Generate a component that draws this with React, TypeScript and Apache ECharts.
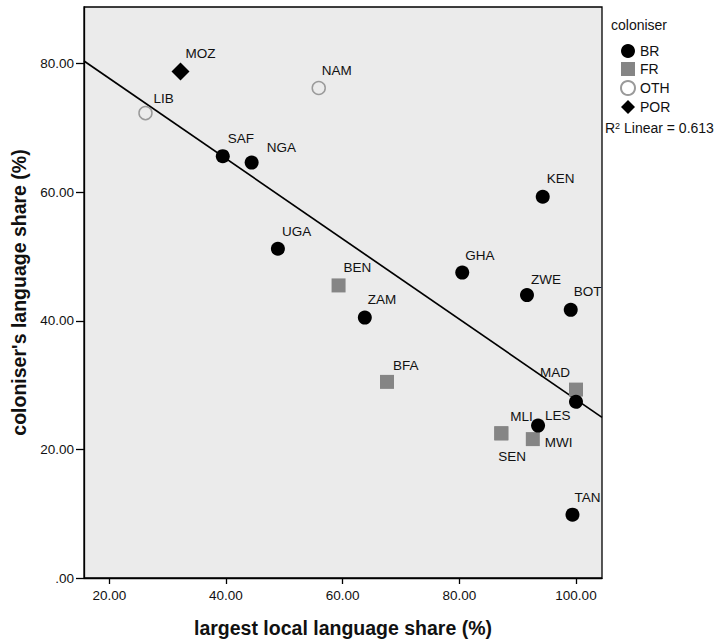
import React, { useEffect, useRef } from "react";
import * as echarts from "echarts";

// ---- data ----
const countries = ["MOZ", "NAM", "LIB", "SAF", "NGA", "KEN", "UGA", "BEN", "GHA", "ZAM", "ZWE", "BOT", "BFA", "MAD", "", "MLI", "SEN", "LES", "MWI", "TAN"];
const coloniser = ["POR", "OTH", "OTH", "BR", "BR", "BR", "BR", "FR", "BR", "BR", "BR", "BR", "FR", "FR", "BR", "FR", "FR", "BR", "FR", "BR"];
const localShare = [32.2, 55.9, 26.2, 39.45, 44.4, 94.3, 48.9, 59.3, 80.5, 63.8, 91.6, 99.1, 67.6, 100.0, 100.0, 87.2, 87.2, 93.5, 92.6, 99.4];
const colonShare = [78.75, 76.2, 72.3, 65.6, 64.6, 59.3, 51.2, 45.5, 47.5, 40.5, 44.0, 41.7, 30.5, 29.3, 27.4, 22.5, 22.5, 23.7, 21.6, 9.85];

const groups = ["BR", "FR", "OTH", "POR"];
const xTicks = [20, 40, 60, 80, 100];
const yTicks = [0, 20, 40, 60, 80];
const X_MIN = 15.66;
const X_MAX = 104.46;
const Y_MIN = 0;
const Y_MAX = 88.8;
const REG_INTERCEPT = 90.17;
const REG_SLOPE = -0.624;
const R2 = 0.613;

// label placement (pixel offsets of label left edge / middle from point centre)
const labelOffsets: Record<string, [number, number]> = {
  MOZ: [5, -18], NAM: [3, -18], LIB: [8, -15], SAF: [5, -18], NGA: [15, -15],
  KEN: [4, -18], UGA: [4, -17], BEN: [5, -18], GHA: [3, -17], ZAM: [3, -18],
  ZWE: [4, -16], BOT: [3, -18], BFA: [6, -16], MAD: [-36, -17], MLI: [9, -17],
  SEN: [-3, 23], LES: [7, -10], MWI: [12, 3], TAN: [2, -17],
};

const FONT = "'Liberation Sans', Arial, Helvetica, sans-serif";
const TXT = "#111";

const groupStyle: Record<string, any> = {
  BR: { symbol: "circle", symbolSize: 14, itemStyle: { color: "#000", opacity: 1 }, z: 5 },
  FR: { symbol: "rect", symbolSize: 14, itemStyle: { color: "#858585", opacity: 1 }, z: 3 },
  OTH: { symbol: "circle", symbolSize: 13, itemStyle: { color: "rgba(0,0,0,0)", borderColor: "#9a9a9a", borderWidth: 1.5, opacity: 1 }, z: 4 },
  POR: { symbol: "diamond", symbolSize: 18, itemStyle: { color: "#000", opacity: 1 }, z: 4 },
};

export default function App() {
  const ref = useRef<HTMLDivElement>(null);
  useEffect(() => {
    if (!ref.current) return;
    const chart = echarts.init(ref.current, undefined, { renderer: "svg" });

    const scatterSeries = groups.map((g) => {
      const data: any[] = [];
      countries.forEach((name, i) => {
        if (coloniser[i] !== g) return;
        const off = labelOffsets[name] || [0, 0];
        data.push({
          name,
          value: [localShare[i], colonShare[i]],
          label: { show: name !== "", offset: off },
        });
      });
      const st = groupStyle[g];
      return {
        type: "scatter",
        name: g,
        symbol: st.symbol,
        symbolSize: st.symbolSize,
        itemStyle: st.itemStyle,
        z: st.z,
        data,
        label: {
          show: true,
          position: "inside",
          align: "left",
          verticalAlign: "middle",
          formatter: "{b}",
          color: TXT,
          textBorderWidth: 0,
          fontSize: 13.5,
          fontFamily: FONT,
        },
        emphasis: { disabled: true },
      };
    });

    const fit = (x: number) => REG_INTERCEPT + REG_SLOPE * x;

    chart.setOption({
      animation: false,
      backgroundColor: "#fff",
      title: {
        text: "coloniser",
        left: 611,
        top: 18,
        padding: 0,
        textStyle: { fontSize: 14, fontWeight: "normal", color: TXT, fontFamily: FONT },
      },
      legend: {
        data: groups,
        orient: "vertical",
        left: 620,
        top: 44,
        padding: 0,
        itemWidth: 14,
        itemHeight: 14,
        itemGap: 4,
        selectedMode: false,
        textStyle: { fontSize: 14, color: TXT, fontFamily: FONT, lineHeight: 14 },
      },
      grid: {
        left: 84,
        top: 7,
        width: 518,
        height: 571,
        show: true,
        backgroundColor: "#ebebeb",
        borderColor: "#000",
        borderWidth: 1.3,
      },
      xAxis: {
        type: "value",
        min: X_MIN,
        max: X_MAX,
        name: "largest local language share (%)",
        nameLocation: "middle",
        nameGap: 40,
        nameTextStyle: { fontSize: 19.5, fontWeight: "bold", color: "#111", fontFamily: FONT },
        axisLine: { show: true, lineStyle: { color: "#000", width: 1.3 } },
        axisTick: { show: true, length: 6, customValues: xTicks, lineStyle: { color: "#000", width: 1.3 } },
        axisLabel: {
          customValues: xTicks,
          margin: 10,
          fontSize: 13.5,
          color: TXT,
          fontFamily: FONT,
          formatter: (v: number) => (v === 0 ? ".00" : v.toFixed(2)),
        },
        splitLine: { show: false },
      },
      yAxis: {
        type: "value",
        min: Y_MIN,
        max: Y_MAX,
        name: "coloniser's language share (%)",
        nameLocation: "middle",
        nameGap: 55,
        nameTextStyle: { fontSize: 19.5, fontWeight: "bold", color: "#111", fontFamily: FONT },
        axisLine: { show: true, lineStyle: { color: "#000", width: 1.3 } },
        axisTick: { show: true, length: 8, customValues: yTicks, lineStyle: { color: "#000", width: 1.3 } },
        axisLabel: {
          customValues: yTicks,
          margin: 10,
          fontSize: 13.5,
          color: TXT,
          fontFamily: FONT,
          formatter: (v: number) => (v === 0 ? ".00" : v.toFixed(2)),
        },
        splitLine: { show: false },
      },
      graphic: [
        {
          type: "text",
          left: 605,
          top: 121,
          style: {
            text: "R{s|2} Linear = " + R2.toFixed(3),
            fontSize: 14,
            fontFamily: FONT,
            fill: TXT,
            rich: { s: { fontSize: 9, verticalAlign: "top", fontFamily: FONT, fill: TXT } },
          },
        },
      ],
      series: [
        {
          type: "line",
          name: "fit",
          data: [
            [X_MIN, fit(X_MIN)],
            [X_MAX, fit(X_MAX)],
          ],
          symbol: "none",
          lineStyle: { color: "#000", width: 1.7 },
          z: 2,
          silent: true,
          emphasis: { disabled: true },
        },
        ...scatterSeries,
      ],
    });
    return () => chart.dispose();
  }, []);
  return (
    <div
      ref={ref}
      style={{ position: "fixed", left: 0, top: 0, width: 716, height: 643 }}
    />
  );
}
